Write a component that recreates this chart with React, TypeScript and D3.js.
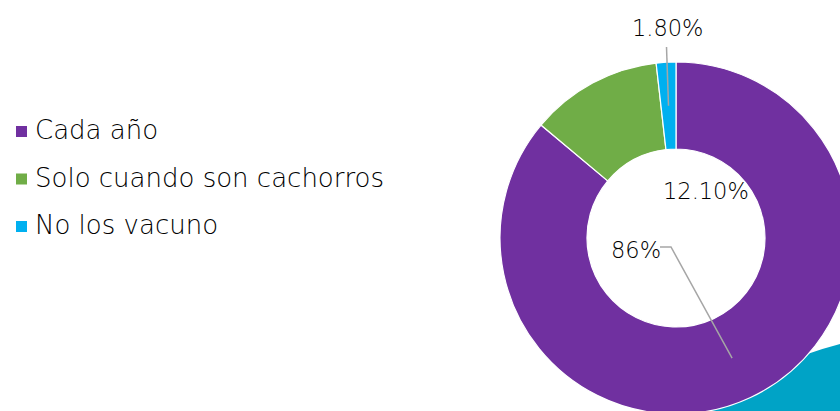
import React, { useEffect, useRef } from "react";
import * as d3 from "d3";

const categories = ["Cada año", "Solo cuando son cachorros", "No los vacuno"];
const values = [86, 12.1, 1.8];
const valueLabels = ["86%", "12.10%", "1.80%"];
const colors = ["#7030A0", "#70AD47", "#00B0F0"];

const width = 840;
const height = 411;

export default function App() {
  const chartRef: any = useRef(null);

  useEffect(() => {
    drawChart();
  }, []);

  const drawChart = () => {
    const root = d3.select(chartRef.current);
    root.selectAll("*").remove();

    const svg = root
      .append("svg")
      .attr("width", width)
      .attr("height", height)
      .style("position", "absolute")
      .style("left", 0)
      .style("top", 0)
      .style("font-family", "'DejaVu Sans', sans-serif")
      .style("font-weight", 300);

    svg.append("rect").attr("width", width).attr("height", height).attr("fill", "#fff");

    // decorative teal shape in the corner, sits behind the donut
    svg
      .append("path")
      .attr("d", "M690,411 Q770,362 840,344 L840,411 Z")
      .attr("fill", "#00A3C6");

    const cx = 676;
    const cy = 238;
    const outerR = 176;
    const innerR = 89;

    const pie = d3
      .pie<number>()
      .sort(null)
      .value((d) => d);
    const arcs = pie(values);

    const arc: any = d3.arc().innerRadius(innerR).outerRadius(outerR);

    const g = svg.append("g").attr("transform", `translate(${cx},${cy})`);

    g.selectAll("path.slice")
      .data(arcs)
      .enter()
      .append("path")
      .attr("class", "slice")
      .attr("d", arc)
      .attr("fill", (d: any, i: number) => colors[i])
      .attr("stroke", "#fff")
      .attr("stroke-width", 1.2);

    // label placement (offsets relative to donut centre)
    const labelPos = [
      { x: -65, y: 20, leader: true },
      { x: -13, y: -39, leader: false },
      { x: -44, y: -202, leader: true },
    ];

    arcs.forEach((a: any, i: number) => {
      const [px, py] = arc.centroid(a);
      const lp = labelPos[i];
      if (lp.leader) {
        if (i === 0) {
          const lx = lp.x + 57;
          const ly = lp.y - 11;
          g.append("path")
            .attr("d", `M${lx - 8},${ly} L${lx + 3},${ly} L${px},${py}`)
            .attr("fill", "none")
            .attr("stroke", "#A6A6A6")
            .attr("stroke-width", 1.5);
        } else {
          g.append("path")
            .attr("d", `M${px - 2},${lp.y + 11} L${px},${py}`)
            .attr("fill", "none")
            .attr("stroke", "#A6A6A6")
            .attr("stroke-width", 1.5);
        }
      }
      g.append("text")
        .attr("x", lp.x)
        .attr("y", lp.y)
        .attr("font-size", 22.5)
        .attr("fill", "#000")
        .text(valueLabels[i]);
    });

    // legend
    const legend = svg.append("g");
    categories.forEach((c, i) => {
      const by = 139 + i * 47.5;
      legend
        .append("rect")
        .attr("x", 16)
        .attr("y", by - 13)
        .attr("width", 11)
        .attr("height", 11)
        .attr("fill", colors[i]);
      legend
        .append("text")
        .attr("x", 35)
        .attr("y", by)
        .attr("font-size", 26)
        .attr("fill", "#000")
        .text(c);
    });
  };

  return <div ref={chartRef}></div>;
}
